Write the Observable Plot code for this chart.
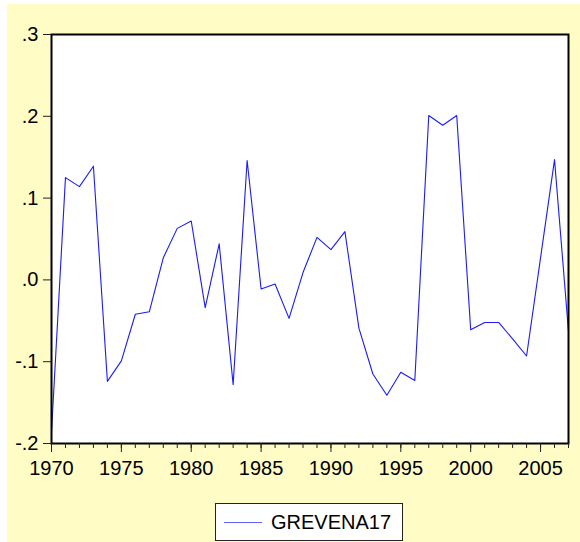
<!DOCTYPE html>
<html>
<head>
<meta charset="utf-8">
<script src="https://cdn.jsdelivr.net/npm/d3@7"></script>
<script src="https://cdn.jsdelivr.net/npm/@observablehq/plot@0.6"></script>
<style>
  html, body { margin: 0; padding: 0; background: #ffffff; }
  #bg { position: absolute; left: 7px; top: 4px; width: 573px; height: 538px; background: #FFFCC6; }
  #chart { position: absolute; left: 0; top: 0; }
  #legend { position: absolute; left: 208px; top: 499px; width: 186px; height: 36px; background: #fff;
            border: 1px solid #222; font-family: "Liberation Sans", Arial, sans-serif; font-size: 20px; color: #000; }
  #legend .sw { position: absolute; left: 8px; top: 18px; width: 38px; height: 0; border-top: 1.5px solid #6060ff; }
  #legend .lb { position: absolute; left: 55px; top: 6px; line-height: 24px; }
</style>
</head>
<body>
<div id="bg">
  <div id="chart"></div>
  <div id="legend"><div class="sw"></div><div class="lb"></div></div>
</div>
<script>
const seriesName = "GREVENA17";
const years = [1970,1971,1972,1973,1974,1975,1976,1977,1978,1979,1980,1981,1982,1983,1984,1985,1986,1987,1988,
               1989,1990,1991,1992,1993,1994,1995,1996,1997,1998,1999,2000,2001,2002,2003,2004,2005,2006,2007];
const values = [-0.186,0.125,0.114,0.139,-0.124,-0.099,-0.042,-0.039,0.027,0.063,0.072,-0.034,0.044,-0.128,0.146,
                -0.011,-0.005,-0.047,0.009,0.052,0.037,0.059,-0.059,-0.115,-0.141,-0.113,-0.123,0.201,0.189,0.201,
                -0.061,-0.052,-0.052,-0.072,-0.093,0.027,0.147,-0.063];
const yTicks = [-0.2,-0.1,0.0,0.1,0.2,0.3];
const yLabels = ["-.2","-.1",".0",".1",".2",".3"];
const xMajor = [1970,1975,1980,1985,1990,1995,2000,2005];
const xMajorLabels = ["1970","1975","1980","1985","1990","1995","2000","2005"];
const xMinor = years;

const data = years.map((y, i) => ({year: y, value: values[i]}));

const chart = Plot.plot({
  width: 573,
  height: 498,
  marginLeft: 44,
  marginRight: 12,
  marginTop: 30,
  marginBottom: 59,
  style: {background: "transparent", fontFamily: "'Liberation Sans', Arial, sans-serif", fontSize: "20px", color: "#000"},
  x: {domain: [1970, 2007], label: null},
  y: {domain: [-0.2, 0.3], label: null},
  marks: [
    Plot.frame({fill: "#ffffff"}),
    Plot.line(data, {x: "year", y: "value", stroke: "#1a1aff", strokeWidth: 1.1}),
    Plot.frame({stroke: "#000", strokeWidth: 2}),
    Plot.axisY(yTicks, {tickSize: 8, tickPadding: 5, label: null, stroke: "#222",
      tickFormat: d => yLabels[yTicks.indexOf(d)]}),
    Plot.axisX(xMinor, {tickSize: 5, label: null, stroke: "#222", tickFormat: () => ""}),
    Plot.axisX(xMajor, {tickSize: 9, tickPadding: 8, label: null, stroke: "#222",
      tickFormat: d => xMajorLabels[xMajor.indexOf(d)]})
  ]
});
document.getElementById("chart").appendChild(chart);
document.querySelector("#legend .lb").textContent = seriesName;
</script>
</body>
</html>
